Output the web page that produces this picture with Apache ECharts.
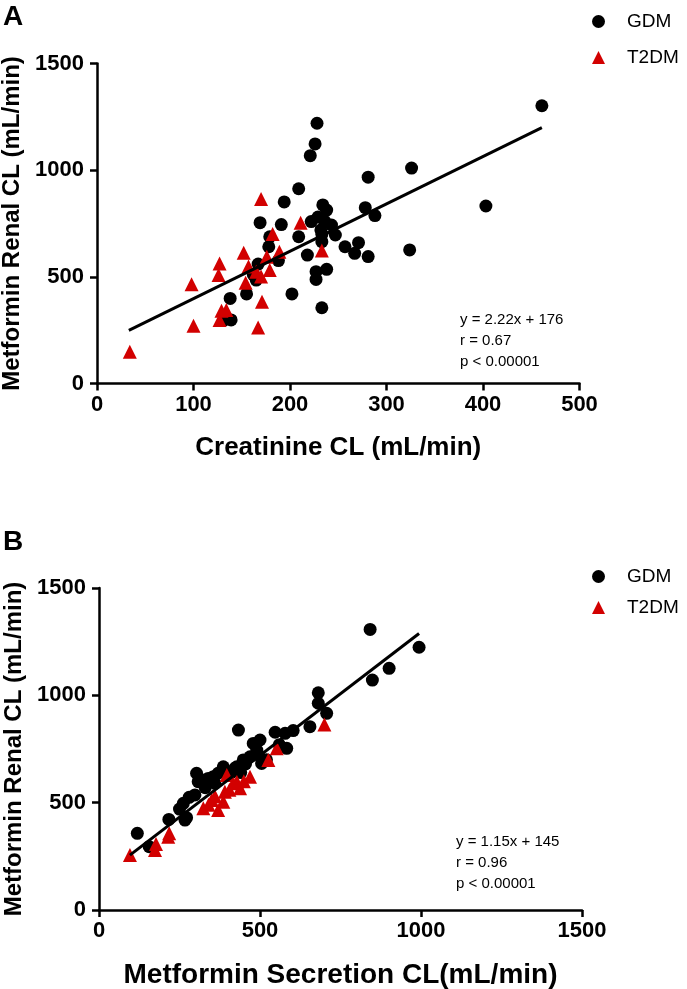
<!DOCTYPE html>
<html>
<head>
<meta charset="utf-8">
<script src="https://cdn.jsdelivr.net/npm/echarts@6/dist/echarts.min.js"></script>
<style>
html,body{margin:0;padding:0;background:#fff;}
#chart{width:687px;height:989px;}
</style>
</head>
<body>
<div id="chart"></div>
<script>
// ---- Panel A data: [Creatinine CL, Metformin Renal CL]
const gdmA = [[461,1302],[326,1010],[281,967],[403,832],[324,626],[278,824],[288,787],[257,641],[271,660],[267,610],[281,595],[243,743],[247,696],[234,837],[238,813],[222,759],[232,720],[233,665],[227,524],[238,535],[227,488],[218,602],[209,688],[209,913],[194,851],[191,745],[169,754],[179,688],[178,641],[188,576],[167,560],[165,485],[155,420],[138,399],[202,420],[233,355],[228,1220],[226,1123],[221,1068],[132,298],[139,298],[229,780],[233,700],[162,510],[236,760]];
const t2dmA = [[34,149],[98,465],[100,271],[127,563],[126,509],[129,341],[134,345],[127,298],[152,613],[157,548],[154,472],[170,865],[171,383],[167,262],[170,501],[176,594],[179,532],[182,701],[189,618],[211,754],[233,623],[165,524]];
const fitA_slope = 2.22;
const fitA_intercept = 176;
const fitA_xRange = [33, 461];
const statsA = ['y = 2.22x + 176', 'r = 0.67', 'p < 0.00001'];

// ---- Panel B data: [Metformin Secretion CL, Metformin Renal CL]
const gdmB = [[119,357],[156,295],[217,422],[267,419],[262,497],[280,525],[298,536],[303,637],[308,598],[339,613],[355,621],[324,605],[370,637],[386,667],[386,660],[422,660],[428,667],[448,699],[433,838],[469,714],[479,776],[490,745],[500,792],[505,683],[547,828],[578,823],[583,753],[603,836],[655,854],[681,1012],[681,963],[707,916],[842,1307],[849,1071],[901,1126],[994,1224],[330,570],[410,640],[455,680],[520,700],[560,770],[440,640],[360,590],[250,470],[272,430],[495,722]];
const t2dmB = [[96,256],[174,279],[177,307],[215,341],[218,358],[324,474],[370,466],[350,512],[386,504],[391,551],[397,629],[438,567],[428,598],[469,621],[417,590],[526,699],[552,753],[700,864],[340,490],[360,530],[405,560],[450,600]];
const fitB_slope = 1.15;
const fitB_intercept = 145;
const fitB_xRange = [96, 994];
const statsB = ['y = 1.15x + 145', 'r = 0.96', 'p < 0.00001'];

// ---- Axis ticks
const xTicksA = [0, 500, 100];
const xTicksB = [0, 1500, 500];
const yTicks = [0, 1500, 500];
const seriesNames = ['GDM', 'T2DM'];
const panelLabels = ['A', 'B'];
const xTitles = ['Creatinine CL (mL/min)', 'Metformin Secretion CL(mL/min)'];
const yTitle = 'Metformin Renal CL (mL/min)';

const FONT = '"Liberation Sans", Arial, Helvetica, sans-serif';
const RED = '#d20000';

function fitLine(slope, intercept, range) {
  return range.map(x => [x, +(slope * x + intercept).toFixed(2)]);
}

function xAxis(gridIndex, ticks, title, titleSize) {
  return {
    type: 'value', gridIndex: gridIndex,
    min: ticks[0], max: ticks[1], interval: ticks[2],
    name: title, nameLocation: 'middle', nameGap: 51,
    nameTextStyle: {fontFamily: FONT, fontWeight: 'bold', fontSize: titleSize, color: '#000'},
    axisLine: {show: true, onZero: false, lineStyle: {color: '#000', width: 2.5}},
    axisTick: {show: true, inside: false, length: 7, lineStyle: {color: '#000', width: 2.5}},
    axisLabel: {fontFamily: FONT, fontWeight: 'bold', fontSize: 22, color: '#000', margin: 10,
                formatter: v => String(v)},
    splitLine: {show: false}
  };
}
function yAxis(gridIndex, ticks) {
  return {
    type: 'value', gridIndex: gridIndex,
    min: ticks[0], max: ticks[1], interval: ticks[2],
    name: yTitle, nameLocation: 'middle', nameGap: 68, nameRotate: 90,
    nameTextStyle: {fontFamily: FONT, fontWeight: 'bold', fontSize: 24, color: '#000'},
    axisLine: {show: true, onZero: false, lineStyle: {color: '#000', width: 2.5}},
    axisTick: {show: true, inside: false, length: 7, lineStyle: {color: '#000', width: 2.5}},
    axisLabel: {fontFamily: FONT, fontWeight: 'bold', fontSize: 22, color: '#000', margin: 13,
                formatter: v => String(v)},
    splitLine: {show: false}
  };
}
function scatter(name, data, idx, symbol, color, size) {
  return {
    name: name, type: 'scatter', xAxisIndex: idx, yAxisIndex: idx,
    data: data, symbol: symbol, symbolSize: size,
    itemStyle: {color: color, opacity: 1}, z: 3, silent: true
  };
}
function fit(data, idx) {
  return {
    name: 'fit' + idx, type: 'line', xAxisIndex: idx, yAxisIndex: idx,
    data: data, symbol: 'none', lineStyle: {color: '#000', width: 3}, z: 4, silent: true
  };
}
function legend(top, gap) {
  return {
    orient: 'vertical', left: 587, top: top, itemGap: gap,
    itemWidth: 13, itemHeight: 13,
    selectedMode: false,
    textStyle: {fontFamily: FONT, fontSize: 19, color: '#000', padding: [0, 0, 0, 17]},
    data: [{name: seriesNames[0], icon: 'circle', itemStyle: {color: '#000'}},
           {name: seriesNames[1], icon: 'triangle', itemStyle: {color: RED}}]
  };
}
function statsText(lines, x, y0) {
  return lines.map((t, i) => ({
    type: 'text', left: x, top: y0 + i * 21,
    style: {text: t, font: '15px ' + FONT, fill: '#000'}
  }));
}

const chart = echarts.init(document.getElementById('chart'), null, {renderer: 'canvas'});
chart.setOption({
  animation: false,
  backgroundColor: '#fff',
  grid: [
    {left: 97, top: 63.5, width: 482.5, height: 320, containLabel: false, outerBoundsMode: 'none'},
    {left: 99, top: 588, width: 483, height: 322, containLabel: false, outerBoundsMode: 'none'}
  ],
  xAxis: [xAxis(0, xTicksA, xTitles[0], 26), xAxis(1, xTicksB, xTitles[1], 28)],
  yAxis: [yAxis(0, yTicks), yAxis(1, yTicks)],
  legend: [legend(7, 17), legend(562, 12)],
  series: [
    scatter(seriesNames[0], gdmA, 0, 'circle', '#000', 13),
    scatter(seriesNames[1], t2dmA, 0, 'triangle', RED, 14),
    fit(fitLine(fitA_slope, fitA_intercept, fitA_xRange), 0),
    scatter(seriesNames[0], gdmB, 1, 'circle', '#000', 13),
    scatter(seriesNames[1], t2dmB, 1, 'triangle', RED, 14),
    fit(fitLine(fitB_slope, fitB_intercept, fitB_xRange), 1)
  ],
  graphic: [
    {type: 'text', left: 3, top: 3, style: {text: panelLabels[0], font: 'bold 28px ' + FONT, fill: '#000'}},
    {type: 'text', left: 3, top: 528, style: {text: panelLabels[1], font: 'bold 28px ' + FONT, fill: '#000'}}
  ].concat(statsText(statsA, 460, 312), statsText(statsB, 456, 834))
});
</script>
</body>
</html>
